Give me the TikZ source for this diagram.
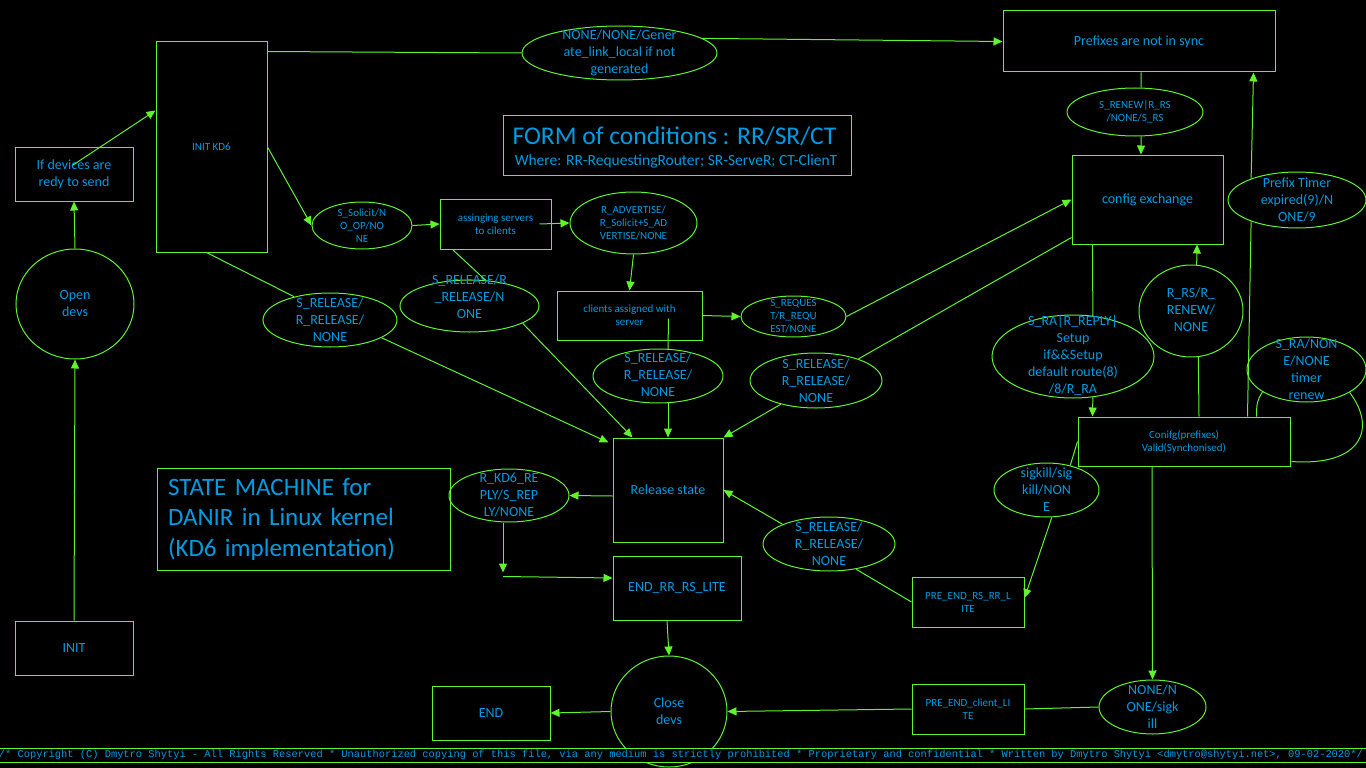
\documentclass[tikz,border=0pt]{standalone}
\usepackage{fontspec}
\setmainfont{Carlito}
\setmonofont{Liberation Mono}
\usepackage{tikz}
\usetikzlibrary{shapes,arrows,arrows.meta,positioning,calc}
\definecolor{lineg}{RGB}{95,245,45}
\definecolor{txtb}{RGB}{0,155,225}

\begin{document}
\begin{tikzpicture}[x=1pt, y=-1pt,
    every node/.style={text=txtb},
    stbox/.style={draw=lineg, line width=1pt, rectangle, inner sep=0pt, align=center},
    cond/.style={draw=lineg, line width=1pt, ellipse, inner sep=0pt},
    txt/.style={inner sep=0pt, align=center},
    fsmall/.style={font=\fontsize{11}{13}\selectfont},
    fmid/.style={font=\fontsize{14}{17}\selectfont},
    fbig/.style={font=\fontsize{25}{30.5}\selectfont},
    link/.style={draw=lineg, line width=1pt},
    trans/.style={link, -{Triangle[length=9pt,width=8pt]}}
]
    \useasboundingbox (0,0) rectangle (1366,768);
    \fill[black] (0,0) rectangle (1366,768);

    % States
    \node[stbox, fmid, minimum width=118pt, minimum height=54pt] (ifdev) at (74,174) {If devices are\\redy to send};
    \node[stbox, fsmall, minimum width=111pt, minimum height=210pt] (initkd6) at (211.5,147) {INIT KD6};
    \node[stbox, fmid, minimum width=118pt, minimum height=54pt] (init) at (74,648) {INIT};
    \node[stbox, fmid, minimum width=272pt, minimum height=61pt] (prefsync) at (1139,41.5) {Prefixes are not in sync};
    \node[stbox, fsmall, minimum width=111pt, minimum height=50pt] (assign) at (495.5,224) {assinging servers\\to cilents};
    \node[stbox, fsmall, minimum width=145pt, minimum height=49pt] (clients) at (629.5,315.5) {clients assigned with\\server};
    \node[stbox, fmid, minimum width=151pt, minimum height=89pt] (cfgx) at (1147.5,199.5) {config exchange};
    \node[stbox, fmid, minimum width=110pt, minimum height=104pt] (relstate) at (668,490) {Release state};
    \node[stbox, fmid, minimum width=128pt, minimum height=64pt] (endrr) at (677,588) {END\_RR\_RS\_LITE};
    \node[stbox, fmid, minimum width=118pt, minimum height=54pt] (endbox) at (491,713) {END};
    \node[stbox, fsmall, minimum width=112pt, minimum height=50pt] (prerr) at (968,602) {PRE\_END\_RS\_RR\_L\\ITE};
    \node[stbox, fsmall, minimum width=112pt, minimum height=50pt] (precl) at (968,709) {PRE\_END\_client\_LI\\TE};
    \node[stbox, fsmall, minimum width=212pt, minimum height=49pt] (conifg) at (1184,441.5) {Conifg(prefixes)\\Valid(Synchonised)};

    % Titles
    \node[stbox, minimum width=348pt, minimum height=60pt] (form) at (677,145) {};
    \node[txt, font=\fontsize{25.5}{28}\selectfont] (formtitle) at (674.5,136) {FORM of conditions : RR/SR/CT};
    \node[txt, font=\fontsize{15.5}{18}\selectfont] (formsub) at (676,161) {Where: RR-RequestingRouter; SR-ServeR; CT-ClienT};
    \node[stbox, fbig, minimum width=293pt, minimum height=102pt, text width=271pt, inner xsep=11pt, align=left] (statem) at (303.5,519) {STATE MACHINE for\\DANIR in Linux kernel\\(KD6 implementation)};

    % Conditions
    \node[cond, minimum width=118pt, minimum height=110pt] (opendevs) at (75,304) {};
    \node[txt, fmid] (opendevst) at (opendevs) {Open\\devs};
    \node[cond, minimum width=116pt, minimum height=111pt] (closedevs) at (669,711.5) {};
    \node[txt, fmid] (closedevst) at (closedevs) {Close\\devs};
    \node[cond, minimum width=195pt, minimum height=54pt] (gen) at (619.5,53) {};
    \node[txt, fmid] (gent) at (gen) {NONE/NONE/Gener\\ate\_link\_local if not\\generated};
    \node[cond, minimum width=100pt, minimum height=47pt] (solicit) at (362,225.5) {};
    \node[txt, fsmall] (solicitt) at (solicit) {S\_Solicit/N\\O\_OP/NO\\NE};
    \node[cond, minimum width=127pt, minimum height=62pt] (advert) at (633.5,223) {};
    \node[txt, fsmall] (advertt) at (advert) {R\_ADVERTISE/\\R\_Solicit+S\_AD\\VERTISE/NONE};
    \node[cond, minimum width=105pt, minimum height=41pt] (request) at (793.5,316.5) {};
    \node[txt, fsmall] (requestt) at (request) {S\_REQUES\\T/R\_REQU\\EST/NONE};
    \node[cond, minimum width=134pt, minimum height=54pt] (relL) at (330,320) {};
    \node[txt, fmid] (relLt) at (relL) {S\_RELEASE/\\R\_RELEASE/\\NONE};
    \node[cond, minimum width=139pt, minimum height=52pt] (relM2) at (469.5,306) {};
    \node[txt, fmid] (relM2t) at (469.5,297) {S\_RELEASE/R\\\_RELEASE/N\\ONE};
    \node[cond, minimum width=130pt, minimum height=54pt] (relC) at (658,376) {};
    \node[txt, fmid] (relCt) at (658,375) {S\_RELEASE/\\R\_RELEASE/\\NONE};
    \node[cond, minimum width=132pt, minimum height=55pt] (relR) at (816,380.5) {};
    \node[txt, fmid] (relRt) at (relR) {S\_RELEASE/\\R\_RELEASE/\\NONE};
    \node[cond, minimum width=132pt, minimum height=54pt] (relLR) at (829,544) {};
    \node[txt, fmid] (relLRt) at (relLR) {S\_RELEASE/\\R\_RELEASE/\\NONE};
    \node[cond, minimum width=120pt, minimum height=53pt] (rkd6) at (509,495.5) {};
    \node[txt, fmid] (rkd6t) at (rkd6) {R\_KD6\_RE\\PLY/S\_REP\\LY/NONE};
    \node[cond, minimum width=107pt, minimum height=54pt] (sigk2) at (1152.5,707) {};
    \node[txt, fmid] (sigk2t) at (sigk2) {NONE/N\\ONE/sigk\\ill};
    \node[cond, minimum width=105pt, minimum height=54pt] (sigk1) at (1046.5,490) {};
    \node[txt, fmid] (sigk1t) at (sigk1) {sigkill/sig\\kill/NON\\E};
    \node[cond, minimum width=162pt, minimum height=83pt] (sra) at (1073,356.5) {};
    \node[txt, fmid] (srat) at (1073,355) {S\_RA|R\_REPLY|\\Setup\\if\&\&Setup\\default route(8)\\/8/R\_RA};
    \node[cond, minimum width=104pt, minimum height=92pt] (rrs) at (1191,311) {};
    \node[txt, fmid] (rrst) at (1191,310) {R\_RS/R\_\\RENEW/\\NONE};
    \node[cond, minimum width=119pt, minimum height=65pt] (sranone) at (1306.5,369.5) {};
    \node[txt, fmid] (sranonet) at (sranone) {S\_RA/NON\\E/NONE\\timer\\renew};
    \node[cond, minimum width=136pt, minimum height=48pt] (renew) at (1135,112) {};
    \node[txt, fsmall] (renewt) at (renew) {S\_RENEW|R\_RS\\/NONE/S\_RS};
    \node[cond, minimum width=138pt, minimum height=56pt] (ptimer) at (1297,200) {};
    \node[txt, fmid] (ptimert) at (ptimer) {Prefix Timer\\expired(9)/N\\ONE/9};

    % Start up
    \draw[trans] (init.north) -- (opendevs.south);
    \draw[trans] (opendevs.north) -- (ifdev.south);
    \draw[trans] ($(ifdev.center)+(-1,-9)$) -- ($(initkd6.north west)+(0,69)$);
    \draw[link] ($(initkd6.north east)+(0,10)$) -- (gen.west);
    \draw[trans] (gen.10) -- (prefsync.west);
    \draw[trans] (initkd6.east) -- (solicit.west);
    \draw[trans] (solicit.east) -- (assign.west);
    \draw[trans] ($(assign.east)+(-12,0)$) -- (advert.west);
    \draw[trans] (advert.south) -- (clients.north);
    \draw[trans] (clients.east) -- (request.west);
    \draw[trans] (request.east) -- (cfgx.west);

    % Release paths
    \draw[link] ($(initkd6.south)+(-5,0)$) -- (relL.147);
    \draw[trans] (relL.-19) -- ($(relstate.north west)+(-4,5)$);
    \draw[link] ($(assign.south west)+(13,0)$) -- (relM2.58);
    \draw[trans] (relM2.-18) -- ($(relstate.north west)+(20,0)$);
    \draw[link] ($(clients.center)+(39,3)$) -- ($(relC.north)+(10,1)$);
    \draw[trans] ($(relC.south)+(10,-1)$) -- (relstate.north);
    \draw[link] ($(cfgx.south west)+(0,-7)$) -- (relR.27);
    \draw[trans] (relR.214) -- (relstate.north east);
    \draw[link] (prerr.west) -- (relLR.-43);
    \draw[trans] (relLR.157) -- (relstate.east);

    % Shut down
    \draw[trans] ($(relstate.west)+(0,6)$) -- (rkd6.east);
    \coordinate (kd6bend) at ($(rkd6.south)+(-6,54)$);
    \draw[trans] ($(rkd6.south)+(-6,0)$) -- ($(kd6bend)+(0,-4)$);
    \draw[trans] (kd6bend) -- ($(endrr.west)+(0,-10)$);
    \draw[trans] ($(endrr.south)+(-10,0)$) -- (closedevs.north);
    \draw[trans] (closedevs.west) -- (endbox.east);
    \draw[trans] (precl.west) -- (closedevs.east);
    \draw[link] (precl.east) -- (sigk2.west);

    % Prefix sync loop
    \draw[link] ($(prefsync.south)+(2,0)$) -- (renew.76);
    \draw[trans] (renew.-76) -- ($(cfgx.north)+(-6.5,0)$);
    \draw[link] ($(cfgx.south west)+(21,0)$) -- (sra.64);
    \draw[trans] (sra.-64) -- ($(conifg.north west)+(15,0)$);
    \draw[link] ($(conifg.north)+(15,0)$) -- (rrs.-81);
    \draw[trans] (rrs.83) -- ($(cfgx.south)+(49.5,0)$);
    \draw[link] ($(conifg.north east)+(-43,0)$) -- (ptimer.205);
    \draw[trans] (ptimer.155) -- ($(prefsync.south east)+(-22,0)$);
    \draw[link] ($(conifg.north east)+(-34,0)$) .. controls +(0,-14) and +(-5,8) .. (sranone.207);
    \draw[link] (sranone.-28) .. controls +(28,37) and +(69,5) .. ($(conifg.south east)+(1,-5)$);
    \draw[trans] ($(conifg.south)+(-32,0)$) -- (sigk2.north);
    \draw[link] (conifg.west) -- (sigk1.46);
    \draw[trans] (sigk1.-79) -- ($(prerr.east)+(0,-4)$);

    % Footer
    \node[draw=lineg, fill=black, line width=1pt, minimum width=1372pt, minimum height=14pt, inner sep=0pt,
          font=\ttfamily\fontsize{10.38}{12}\selectfont] (copyr) at (681,755)
          {/* Copyright (C) Dmytro Shytyi - All Rights Reserved * Unauthorized copying of this file, via any medium is strictly prohibited * Proprietary and confidential * Written by Dmytro Shytyi <dmytro@shytyi.net>, 09-02-2020*/};
\end{tikzpicture}
\end{document}
